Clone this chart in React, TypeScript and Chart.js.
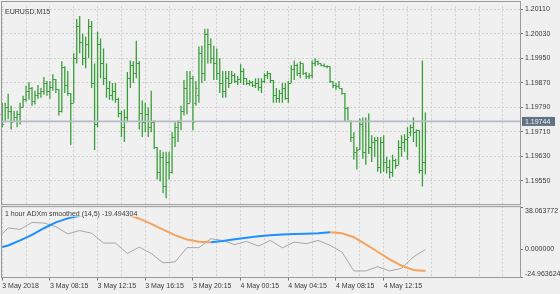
import { useEffect, useRef } from 'react';
import { Chart, registerables } from 'chart.js';

Chart.register(...registerables);

const symbolTitle = 'EURUSD,M15';
const indicatorTitle = '1 hour ADXm smoothed (14,5) -19.494304';

// x-axis labels, one every 16 bars (4 hours of M15 bars)
const timeLabels = ['3 May 2018', '3 May 08:15', '3 May 12:15', '3 May 16:15', '3 May 20:15', '4 May 00:15', '4 May 04:15', '4 May 08:15', '4 May 12:15'];
const priceTicks = [1.2011, 1.2003, 1.1995, 1.1987, 1.1979, 1.1971, 1.1963, 1.1955];
const indicatorTicks = [38.063772, 0, -24.963624];

const barHigh = [
  1.19805, 1.19805, 1.19834, 1.19795, 1.19779, 1.19779, 1.19805, 1.19828, 1.1986, 1.19872,
  1.19856, 1.19844, 1.19863, 1.19853, 1.19889, 1.19876, 1.19876, 1.19898, 1.19882, 1.1985,
  1.1994, 1.19924, 1.19908, 1.19837, 1.19966, 1.20078, 1.20088, 1.2003, 1.2002, 1.20078,
  1.20071, 1.19933, 1.20036, 1.20014, 1.19982, 1.19933, 1.19876, 1.19869, 1.19869, 1.19821,
  1.19779, 1.19783, 1.19905, 1.19943, 1.1994, 1.20007, 1.1994, 1.19812, 1.19805, 1.19789,
  1.19844, 1.19747, 1.19661, 1.19651, 1.19645, 1.19645, 1.19645, 1.19709, 1.19741, 1.19747,
  1.19795, 1.19879, 1.19908, 1.19908, 1.19892, 1.19876, 1.19988, 1.19991, 1.20046, 1.20046,
  1.20014, 1.19991, 1.19982, 1.1995, 1.19908, 1.19908, 1.19908, 1.19908, 1.19901, 1.19892,
  1.1993, 1.19917, 1.19885, 1.19879, 1.19876, 1.19885, 1.19885, 1.19885, 1.19901, 1.19908,
  1.19901, 1.19879, 1.19853, 1.19847, 1.19869, 1.19869, 1.19876, 1.19927, 1.19943, 1.19933,
  1.1994, 1.19933, 1.19905, 1.19901, 1.19943, 1.1995, 1.19943, 1.19933, 1.19933, 1.19927,
  1.19924, 1.19876, 1.19869, 1.19876, 1.19853, 1.19837, 1.19792, 1.19747, 1.19709, 1.19661,
  1.19754, 1.19757, 1.19757, 1.1977, 1.19699, 1.19693, 1.19693, 1.19693, 1.19699, 1.19629,
  1.19619, 1.19635, 1.19622, 1.19683, 1.19699, 1.19702, 1.19725, 1.19734, 1.19757, 1.19718,
  1.19715, 1.19943, 1.19773,
];
const barLow = [
  1.19725, 1.19741, 1.19751, 1.19718, 1.19741, 1.19725, 1.19734, 1.19789, 1.19808, 1.19815,
  1.19795, 1.19799, 1.19818, 1.19821, 1.19831, 1.19828, 1.19818, 1.19844, 1.19837, 1.19763,
  1.19773, 1.19837, 1.19828, 1.19667, 1.19805, 1.19933, 1.19966, 1.19927, 1.19917, 1.1995,
  1.19853, 1.19651, 1.19725, 1.19885, 1.19863, 1.19821, 1.19815, 1.19812, 1.19805, 1.19757,
  1.19693, 1.19677, 1.19741, 1.19853, 1.19869, 1.19885, 1.19718, 1.19693, 1.19709, 1.19693,
  1.19709, 1.19654, 1.19555, 1.19548, 1.1951, 1.19494, 1.19555, 1.19574, 1.19661, 1.19677,
  1.19715, 1.19763, 1.19767, 1.19805, 1.19715, 1.19795, 1.19805, 1.19869, 1.19876, 1.19933,
  1.19933, 1.19879, 1.19879, 1.19837, 1.19821, 1.19821, 1.19853, 1.19869, 1.19869, 1.19863,
  1.19869, 1.19863, 1.19863, 1.1986, 1.19856, 1.19853, 1.19844, 1.19837, 1.19869, 1.19882,
  1.19869, 1.19805, 1.19805, 1.19805, 1.19805, 1.19815, 1.19805, 1.19869, 1.19879, 1.19892,
  1.19885, 1.19895, 1.19882, 1.19882, 1.19885, 1.19924, 1.19927, 1.19924, 1.19921, 1.19917,
  1.19869, 1.19853, 1.19847, 1.19853, 1.19831, 1.19744, 1.19747, 1.19677, 1.19619, 1.19587,
  1.19651, 1.19622, 1.19603, 1.19638, 1.19612, 1.19629, 1.1958, 1.19574, 1.1958, 1.19574,
  1.19558, 1.19564, 1.1959, 1.19603, 1.19629, 1.19645, 1.19619, 1.19696, 1.19677, 1.19661,
  1.19574, 1.19532, 1.19571,
];
const barOpen = [
  1.19767, 1.19747, 1.19792, 1.19779, 1.19747, 1.1976, 1.19767, 1.19792, 1.19818, 1.19844,
  1.19853, 1.19812, 1.19831, 1.19837, 1.19844, 1.19869, 1.19844, 1.19856, 1.19882, 1.1985,
  1.19779, 1.19921, 1.19863, 1.19837, 1.19805, 1.1995, 1.20055, 1.20004, 1.1995, 1.19998,
  1.20055, 1.19869, 1.19734, 1.19998, 1.19933, 1.19885, 1.19853, 1.19831, 1.19844, 1.19818,
  1.19773, 1.19725, 1.19757, 1.19885, 1.19927, 1.19901, 1.19933, 1.19773, 1.19741, 1.19767,
  1.19725, 1.19741, 1.19661, 1.1958, 1.19629, 1.19532, 1.19612, 1.1958, 1.19693, 1.19725,
  1.19741, 1.19779, 1.19853, 1.19805, 1.19885, 1.19805, 1.19831, 1.19966, 1.19901, 1.2003,
  1.19998, 1.1995, 1.19933, 1.19901, 1.19869, 1.19844, 1.19885, 1.19869, 1.19895, 1.19876,
  1.19882, 1.19908, 1.19885, 1.19869, 1.19872, 1.19863, 1.19869, 1.19856, 1.19876, 1.19895,
  1.19901, 1.19879, 1.19831, 1.19821, 1.19837, 1.19853, 1.19821, 1.19869, 1.19914, 1.19927,
  1.19901, 1.19933, 1.19901, 1.19892, 1.19895, 1.19933, 1.1994, 1.19933, 1.19927, 1.19924,
  1.19924, 1.19876, 1.19863, 1.1986, 1.19853, 1.19837, 1.19789, 1.19747, 1.19693, 1.19645,
  1.19654, 1.19734, 1.19645, 1.19747, 1.19661, 1.19677, 1.19683, 1.19596, 1.19677, 1.19612,
  1.19596, 1.1958, 1.19619, 1.19603, 1.19661, 1.19677, 1.19686, 1.19709, 1.19725, 1.19709,
  1.19715, 1.19587, 1.19612,
];
const barClose = [
  1.19734, 1.19792, 1.19779, 1.19741, 1.1976, 1.19767, 1.19792, 1.19818, 1.19844, 1.19853,
  1.19812, 1.19831, 1.19837, 1.19844, 1.19869, 1.19844, 1.19856, 1.19882, 1.1985, 1.19779,
  1.19921, 1.19863, 1.19837, 1.19805, 1.1995, 1.20055, 1.20004, 1.1995, 1.19998, 1.20055,
  1.19869, 1.19734, 1.19998, 1.19933, 1.19885, 1.19853, 1.19831, 1.19844, 1.19818, 1.19773,
  1.19725, 1.19757, 1.19885, 1.19927, 1.19901, 1.19933, 1.19773, 1.19741, 1.19767, 1.19725,
  1.19741, 1.19661, 1.1958, 1.19629, 1.19532, 1.19612, 1.1958, 1.19693, 1.19725, 1.19741,
  1.19779, 1.19853, 1.19805, 1.19885, 1.19741, 1.19853, 1.19966, 1.19901, 1.2003, 1.19998,
  1.1995, 1.19933, 1.19901, 1.19869, 1.19844, 1.19885, 1.19869, 1.19895, 1.19876, 1.19882,
  1.19908, 1.19885, 1.19869, 1.19872, 1.19863, 1.19869, 1.19856, 1.19876, 1.19895, 1.19901,
  1.19879, 1.19831, 1.19821, 1.19837, 1.19853, 1.19821, 1.19869, 1.19914, 1.19927, 1.19901,
  1.19933, 1.19901, 1.19892, 1.19895, 1.19933, 1.1994, 1.19933, 1.19927, 1.19924, 1.19924,
  1.19876, 1.19863, 1.1986, 1.19853, 1.19837, 1.19789, 1.19747, 1.19693, 1.19645, 1.19651,
  1.19734, 1.19645, 1.19747, 1.19661, 1.19677, 1.19683, 1.19596, 1.19677, 1.19612, 1.19596,
  1.1958, 1.19619, 1.19603, 1.19661, 1.19677, 1.19686, 1.19693, 1.19725, 1.19709, 1.19715,
  1.19587, 1.19612, 1.19744,
];

// hourly indicator values, placed at the bar index where each hour's value sits
const hourBars = [0, 2, 6, 10, 14, 18, 22, 26, 30, 34, 38, 42, 46, 50, 54, 58, 62, 66, 70, 74, 78, 82, 86, 90, 94, 98, 102, 106, 110, 114, 118, 122, 126, 130, 134, 138, 142];
const adxRaw = [13.9, 19.3, 18.0, 24.2, 23.7, 20.4, 13.9, 16.9, 14.5, 5.6, 5.6, -3.8, 2.0, -3.8, -12.2, -11.3, 1.5, 1.5, 9.5, 8.0, 4.2, 7.1, 2.9, 8.0, 1.3, 6.5, 5.1, 8.0, 3.6, -2.4, -19.5, -19.5, -15.7, -19.5, -17.1, -6.8, -0.3];
const adxSmoothed = [2.0, 3.5, 8.0, 13.0, 19.0, 24.3, 27.9, 30.3, 33.5, 36.0, 35.5, 31.0, 27.6, 23.0, 17.8, 12.8, 8.8, 6.8, 6.4, 7.5, 9.0, 10.5, 11.7, 12.6, 13.4, 13.7, 14.1, 14.5, 15.3, 14.5, 10.9, 4.4, -2.2, -9.0, -14.8, -18.6, -19.494304];

const FONT = '"Liberation Sans", Arial, sans-serif';
const BG = '#f0f0f0';
const GREEN = '#3a9e3a';
const TEXT = '#3a3a3a';
const GRID = '#cfcfcf';
const FRAME = '#9a9a9a';

export default function App() {
  const ref = useRef<HTMLCanvasElement>(null);

  useEffect(() => {
    const canvas = ref.current;
    if (!canvas) return;
    const n = barClose.length;

    const decor = {
      id: 'mt4decor',
      beforeDraw(chart: any) {
        const c = chart.ctx;
        c.save();
        c.fillStyle = BG;
        c.fillRect(0, 0, chart.width, chart.height);
        c.restore();
      },
      afterDatasetsDraw(chart: any) {
        const c = chart.ctx;
        const xs = chart.scales.x;
        const ys = chart.scales.y;
        const y2 = chart.scales.y2;
        c.save();
        // open / close ticks of the OHLC bars
        c.strokeStyle = GREEN;
        c.lineWidth = 1;
        c.beginPath();
        for (let i = 0; i < n; i++) {
          const px = xs.getPixelForValue(i);
          const po = Math.round(ys.getPixelForValue(barOpen[i])) + 0.5;
          const pc = Math.round(ys.getPixelForValue(barClose[i])) + 0.5;
          c.moveTo(px - 1.6, po);
          c.lineTo(px, po);
          c.moveTo(px, pc);
          c.lineTo(px + 1.6, pc);
        }
        c.stroke();

        // bid line
        const last = barClose[n - 1];
        const pl = ys.getPixelForValue(last);
        c.strokeStyle = '#b3bac3';
        c.lineWidth = 1.8;
        c.beginPath();
        c.moveTo(xs.left, pl);
        c.lineTo(xs.right, pl);
        c.stroke();

        c.font = '7px ' + FONT;
        c.textBaseline = 'middle';
        c.textAlign = 'left';

        // indicator short name with background
        const w = c.measureText(indicatorTitle).width;
        c.fillStyle = BG;
        c.fillRect(3, y2.top + 2, w + 5, 9.5);
        c.fillStyle = TEXT;
        c.fillText(indicatorTitle, 5, y2.top + 8.5);

        // symbol title
        c.fillText(symbolTitle, 5, ys.top + 5.5);

        // panel frames
        c.strokeStyle = FRAME;
        c.lineWidth = 1;
        c.strokeRect(1.5, 1.5, xs.right - 1, ys.bottom - 2);
        c.strokeRect(1.5, y2.top + 1.5, xs.right - 1, y2.bottom - y2.top - 1.5);

        // bid price label
        c.fillStyle = '#617284';
        c.fillRect(xs.right + 2, pl - 4.5, 33, 9);
        c.fillStyle = '#eef2f6';
        c.fillText(last.toFixed(5), xs.right + 5, pl + 0.5);

        // sub-window scale labels
        c.fillStyle = TEXT;
        indicatorTicks.forEach((v, k) => {
          const py = y2.getPixelForValue(v);
          c.textBaseline = k === 0 ? 'top' : k === indicatorTicks.length - 1 ? 'bottom' : 'middle';
          c.fillText(v.toFixed(6), xs.right + 5, py + (k === indicatorTicks.length - 1 ? 1 : 0));
        });
        c.restore();
      },
    };

    const chart = new Chart(canvas, {
      type: 'line',
      data: {
        datasets: [
          {
            type: 'bar',
            data: barHigh.map((h, i) => ({ x: i, y: [barLow[i], h] })),
            yAxisID: 'y',
            xAxisID: 'x',
            backgroundColor: GREEN,
            borderWidth: 0,
            barThickness: 1.3,
            inflateAmount: 0,
            order: 3,
          } as any,
          {
            type: 'line',
            data: hourBars.map((b, k) => ({ x: b, y: adxRaw[k] })),
            yAxisID: 'y2',
            xAxisID: 'x',
            borderColor: '#a6a6a6',
            borderWidth: 1,
            pointRadius: 0,
            tension: 0,
            order: 2,
          },
          {
            type: 'line',
            data: hourBars.map((b, k) => ({ x: b, y: adxSmoothed[k] })),
            yAxisID: 'y2',
            xAxisID: 'x',
            borderColor: '#1e8fff',
            borderWidth: 2,
            pointRadius: 0,
            tension: 0,
            order: 1,
            segment: {
              borderColor: (ctx: any) => (ctx.p1.parsed.y < ctx.p0.parsed.y ? '#f5a35e' : '#1e8fff'),
            },
          },
        ],
      },
      options: {
        responsive: false,
        maintainAspectRatio: false,
        animation: false,
        events: [],
        layout: { padding: { left: 2, top: 2, right: 0, bottom: 0 } },
        plugins: { legend: { display: false }, tooltip: { enabled: false } },
        scales: {
          x: {
            type: 'linear',
            position: 'bottom',
            min: -0.07,
            max: 173.75,
            offset: false,
            afterBuildTicks: (s: any) => {
              const t: any[] = [];
              for (let v = 0; v <= s.max; v += 8) t.push({ value: v });
              s.ticks = t;
            },
            afterFit: (s: any) => {
              s.height = 16.5;
            },
            ticks: {
              autoSkip: false,
              maxRotation: 0,
              minRotation: 0,
              align: 'start',
              padding: 1,
              color: TEXT,
              font: { family: FONT, size: 7 },
              callback: (v: any) => {
                const k = Number(v) / 16;
                return Number.isInteger(k) && k < timeLabels.length ? timeLabels[k] : '';
              },
            },
            grid: {
              offset: false,
              color: GRID,
              lineWidth: 1,
              drawTicks: true,
              tickLength: 3,
              tickBorderDash: [],
              tickColor: (ctx: any) => {
                const v = ctx.tick ? ctx.tick.value : -1;
                return v % 16 === 0 && v / 16 < timeLabels.length ? '#777' : 'rgba(0,0,0,0)';
              },
            },
            border: { display: false, dash: [2, 2] },
          },
          y: {
            type: 'linear',
            position: 'right',
            stack: 'panes',
            stackWeight: 202,
            min: 1.194712,
            max: 1.201196,
            afterBuildTicks: (s: any) => {
              s.ticks = priceTicks.map((v) => ({ value: v }));
            },
            afterFit: (s: any) => {
              s.width = 40;
            },
            ticks: {
              padding: 2,
              color: TEXT,
              font: { family: FONT, size: 7 },
              callback: (v: any) => Number(v).toFixed(5),
            },
            grid: {
              color: GRID,
              lineWidth: 1,
              drawTicks: true,
              tickLength: 3,
              tickColor: '#777',
              tickBorderDash: [],
            },
            border: { display: false, dash: [2, 2] },
          },
          y2: {
            type: 'linear',
            position: 'right',
            stack: 'panes',
            stackWeight: 73.5,
            min: -25.4075,
            max: 39.8392,
            afterBuildTicks: (s: any) => {
              s.ticks = indicatorTicks.map((v) => ({ value: v }));
            },
            afterFit: (s: any) => {
              s.width = 40;
            },
            ticks: { display: false },
            grid: {
              drawOnChartArea: false,
              drawTicks: true,
              tickLength: 3,
              tickColor: '#777',
              tickBorderDash: [],
            },
            border: { display: false },
          },
        },
      } as any,
      plugins: [decor],
    });
    return () => chart.destroy();
  }, []);

  return (
    <div style={{ position: 'absolute', left: 0, top: 0, width: 560, height: 294 }}>
      <canvas ref={ref} width={560} height={294} style={{ display: 'block', width: 560, height: 294 }} />
    </div>
  );
}
